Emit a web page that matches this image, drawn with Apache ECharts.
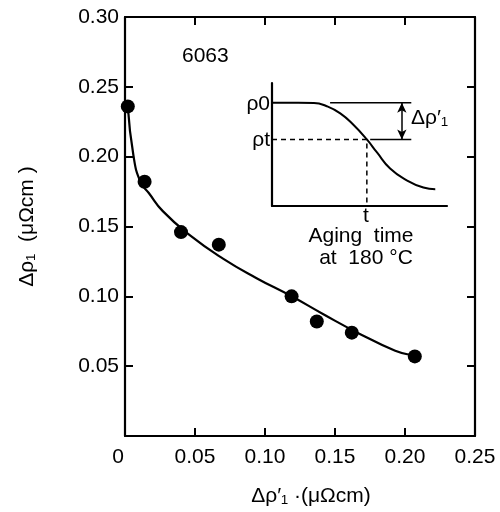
<!DOCTYPE html>
<html><head><meta charset="utf-8">
<script src="https://cdn.jsdelivr.net/npm/echarts@6/dist/echarts.min.js"></script>
<style>html,body{margin:0;padding:0;background:#fff}#c{width:500px;height:512px}</style>
</head><body><div id="c"></div>
<script>
// Main data: measured points
const pointsX = [0.002, 0.014, 0.040, 0.067, 0.119, 0.137, 0.162, 0.207];
const pointsY = [0.236, 0.182, 0.146, 0.137, 0.100, 0.082, 0.074, 0.057];
// Fitted curve
const curveX = [0.002, 0.006, 0.011, 0.017, 0.027, 0.046, 0.070, 0.094, 0.119, 0.142, 0.166, 0.193, 0.204];
const curveY = [0.236, 0.201, 0.182, 0.174, 0.161, 0.144, 0.127, 0.113, 0.100, 0.087, 0.074, 0.061, 0.058];
// Tick labels
const xTickLabels = ['0', '0.05', '0.10', '0.15', '0.20', '0.25'];
const yTickLabels = ['', '0.05', '0.10', '0.15', '0.20', '0.25', '0.30'];
// Inset schematic (arbitrary units 0..10)
const insetCurveX = [0, 1.5, 2.4, 3.1, 3.9, 4.65, 5.42, 6.0, 6.75, 7.7, 8.65, 9.33];
const insetCurveY = [8.4, 8.4, 8.38, 8.13, 7.53, 6.6, 5.41, 4.35, 3.05, 2.09, 1.50, 1.36];
const rho0 = 8.4;
const rhoT = 5.41;
const tX = 5.42;
const rho0LineX = [3.32, 7.96];
const rhoTLineX = [5.61, 7.96];
const arrowX = 7.42;

const zip = (a, b) => a.map((v, i) => [v, b[i]]);
const F = 'Liberation Sans';
const FS = 21;
const FONT = FS + 'px "Liberation Sans"';
const K = '#000';
const axisLine = {show: true, onZero: false, lineStyle: {color: K, width: 2.2}};
const tick = {show: true, inside: true, length: 8, lineStyle: {color: K, width: 2}};

const chart = echarts.init(document.getElementById('c'));
chart.setOption({
  animation: false,
  backgroundColor: '#fff',
  grid: [
    {left: 125, right: 25, top: 17, bottom: 74},
    {left: 272, top: 83, width: 175, height: 123}
  ],
  xAxis: [
    {gridIndex: 0, type: 'value', min: 0, max: 0.25, interval: 0.05, position: 'bottom',
     axisLine: axisLine, axisTick: tick, splitLine: {show: false},
     axisLabel: {formatter: (v, i) => i === 0 ? '{z|' + xTickLabels[i] + '}' : xTickLabels[i],
       fontFamily: F, fontSize: FS, color: K, margin: 11,
       rich: {z: {fontFamily: F, fontSize: FS, color: K, padding: [0, 14, 0, 0]}}},
     name: 'Δρ′₁ ·(μΩcm)', nameLocation: 'middle', nameGap: 50,
     nameTextStyle: {fontFamily: F, fontSize: FS, color: K, padding: [0, 0, 0, 22]}},
    {gridIndex: 0, type: 'value', min: 0, max: 0.25, interval: 0.05, position: 'top',
     axisLine: axisLine, axisTick: tick, splitLine: {show: false}, axisLabel: {show: false}},
    {gridIndex: 1, type: 'value', min: 0, max: 10, position: 'bottom',
     axisLine: axisLine, axisTick: {show: false}, splitLine: {show: false}, axisLabel: {show: false}}
  ],
  yAxis: [
    {gridIndex: 0, type: 'value', min: 0, max: 0.30, interval: 0.05, position: 'left',
     axisLine: axisLine, axisTick: tick, splitLine: {show: false},
     axisLabel: {formatter: (v, i) => yTickLabels[i], fontFamily: F, fontSize: FS, color: K, margin: 6},
     name: 'Δρ₁  (μΩcm )', nameLocation: 'middle', nameGap: 87,
     nameTextStyle: {fontFamily: F, fontSize: FS, color: K}},
    {gridIndex: 0, type: 'value', min: 0, max: 0.30, interval: 0.05, position: 'right',
     axisLine: axisLine, axisTick: tick, splitLine: {show: false}, axisLabel: {show: false}},
    {gridIndex: 1, type: 'value', min: 0, max: 10, position: 'left',
     axisLine: axisLine, axisTick: {show: false}, splitLine: {show: false}, axisLabel: {show: false}}
  ],
  series: [
    {type: 'line', xAxisIndex: 0, yAxisIndex: 0, data: zip(curveX, curveY), smooth: 0.5,
     symbol: 'none', lineStyle: {color: K, width: 2.2}, silent: true},
    {type: 'scatter', xAxisIndex: 0, yAxisIndex: 0, data: zip(pointsX, pointsY), symbol: 'circle', symbolSize: 14,
     itemStyle: {color: K, opacity: 1}, clip: false, silent: true},
    {type: 'line', xAxisIndex: 2, yAxisIndex: 2, data: zip(insetCurveX, insetCurveY), smooth: 0.5,
     symbol: 'none', lineStyle: {color: K, width: 2}, silent: true},
    {type: 'line', xAxisIndex: 2, yAxisIndex: 2, data: [[0, rhoT], [tX, rhoT], [tX, 0]],
     symbol: 'none', lineStyle: {color: K, width: 1.5, type: [5, 4]}, silent: true},
    {type: 'line', xAxisIndex: 2, yAxisIndex: 2, data: rho0LineX.map(x => [x, rho0]),
     symbol: 'none', lineStyle: {color: K, width: 1.6}, silent: true},
    {type: 'line', xAxisIndex: 2, yAxisIndex: 2, data: rhoTLineX.map(x => [x, rhoT]),
     symbol: 'none', lineStyle: {color: K, width: 1.6}, silent: true,
     markLine: {silent: true, symbol: ['arrow', 'arrow'], symbolSize: [7, 10],
       lineStyle: {color: K, width: 1.5, type: 'solid'}, label: {show: false},
       data: [[{coord: [arrowX, rho0]}, {coord: [arrowX, rhoT]}]]}}
  ],
  graphic: [
    {type: 'text', left: 182, top: 46, style: {text: '6063', font: FONT, fill: K}},
    {type: 'text', x: 270, y: 104, style: {text: 'ρ0', font: FONT, fill: K, align: 'right', verticalAlign: 'middle'}},
    {type: 'text', x: 270, y: 140, style: {text: 'ρt', font: FONT, fill: K, align: 'right', verticalAlign: 'middle'}},
    {type: 'text', x: 411, y: 118, style: {text: 'Δρ′₁', font: FONT, fill: K, align: 'left', verticalAlign: 'middle'}},
    {type: 'text', x: 366, y: 216, style: {text: 't', font: FONT, fill: K, align: 'center', verticalAlign: 'middle'}},
    {type: 'text', x: 361, y: 236, style: {text: 'Aging  time', font: FONT, fill: K, align: 'center', verticalAlign: 'middle'}},
    {type: 'text', x: 366, y: 258, style: {text: 'at  180 °C', font: FONT, fill: K, align: 'center', verticalAlign: 'middle'}}
  ]
});
</script>
</body></html>
